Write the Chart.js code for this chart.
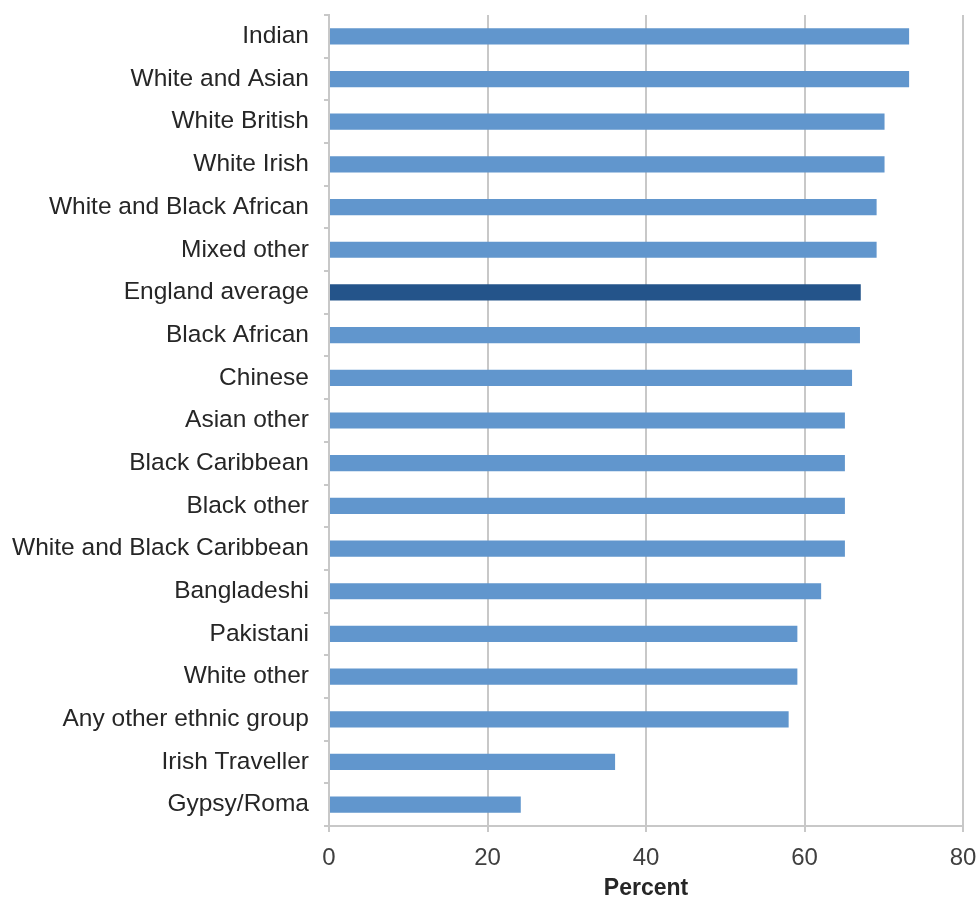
<!DOCTYPE html>
<html>
<head>
<meta charset="utf-8">
<script src="https://cdn.jsdelivr.net/npm/chart.js@4/dist/chart.umd.min.js"></script>
<style>
html,body{margin:0;padding:0;background:#fff;}
#wrap{width:979px;height:902px;position:relative;}
</style>
</head>
<body>
<div id="wrap"><canvas id="c" width="979" height="902"></canvas></div>
<script>
const categories = ["Indian","White and Asian","White British","White Irish","White and Black African","Mixed other","England average","Black African","Chinese","Asian other","Black Caribbean","Black other","White and Black Caribbean","Bangladeshi","Pakistani","White other","Any other ethnic group","Irish Traveller","Gypsy/Roma"];
const values = [73.2, 73.2, 70.1, 70.1, 69.1, 69.1, 67.1, 67, 66, 65.1, 65.1, 65.1, 65.1, 62.1, 59.1, 59.1, 58, 36.1, 24.2];
const highlightCategory = "England average";
const xTicks = [0, 20, 40, 60, 80];
const xTitle = "Percent";

const FONT = "'Liberation Sans', Arial, Helvetica, sans-serif";
const barColors = categories.map(c => c === highlightCategory ? "#24548a" : "#6196cd");

new Chart(document.getElementById("c"), {
  type: "bar",
  data: {
    labels: categories,
    datasets: [{
      data: values,
      backgroundColor: barColors,
      borderWidth: 0,
      barPercentage: 0.38,
      categoryPercentage: 1.0
    }]
  },
  options: {
    indexAxis: "y",
    responsive: false,
    animation: false,
    layout: { padding: { top: 15, right: 16, left: 0, bottom: 0 } },
    plugins: { legend: { display: false }, tooltip: { enabled: false } },
    scales: {
      x: {
        min: 0, max: 80,
        afterBuildTicks: s => { s.ticks = xTicks.map(v => ({ value: v })); },
        afterFit: s => { s.height = 76; s.paddingLeft = 0; s.paddingRight = 0; },
        grid: { color: "#c8c8c8", lineWidth: 2, drawTicks: true, tickLength: 6, tickColor: "#c8c8c8" },
        border: { color: "#c8c8c8", width: 2 },
        ticks: { color: "#404040", font: { family: FONT, size: 24 }, padding: 12, maxRotation: 0 },
        title: { display: true, text: xTitle, color: "#262626", font: { family: FONT, size: 23, weight: "bold" }, padding: { top: 4, bottom: 0 } }
      },
      y: {
        afterFit: s => { s.width = 329; s.paddingTop = 0; s.paddingBottom = 0; },
        grid: { offset: true, drawOnChartArea: false, drawTicks: true, tickLength: 5, color: "#c8c8c8", lineWidth: 2 },
        border: { color: "#c8c8c8", width: 2 },
        ticks: { color: "#262626", font: { family: FONT, size: 24.5 }, padding: 15, autoSkip: false }
      }
    }
  }
});
</script>
</body>
</html>
